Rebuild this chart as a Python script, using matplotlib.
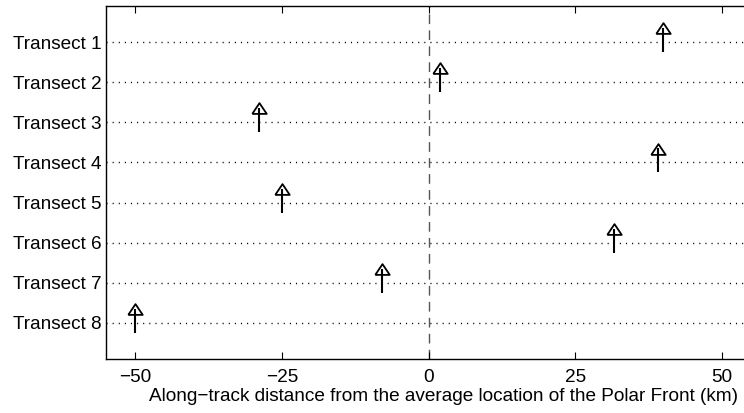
import numpy as np
import matplotlib
matplotlib.use("Agg")
import matplotlib.pyplot as plt

# transect labels and along-track distance of the front crossing (km)
transects = ["Transect 1", "Transect 2", "Transect 3", "Transect 4",
             "Transect 5", "Transect 6", "Transect 7", "Transect 8"]
distance = [40.0, 2.0, -29.0, 39.0, -25.0, 31.5, -8.0, -50.0]
xticks = [-50, -25, 0, 25, 50]

plt.rcParams['font.family'] = ['Liberation Sans', 'DejaVu Sans']

fig = plt.figure(figsize=(7.44, 4.13), dpi=100)
ax = fig.add_axes([0.1425, 0.1308, 0.907, 0.8547])

ypos = np.arange(1, len(transects) + 1)

# dotted guide line for each transect
for y in ypos:
    ax.axhline(y, color='black', lw=1.0, linestyle=(0, (0.8, 3.6)), zorder=1)

# zero line
ax.axvline(0, color='#555555', lw=1.0, linestyle=(0, (7, 4.5)), zorder=1)

# arrows: stem plus open triangular head
head = [(-1, -0.745), (1, -0.745), (0, 0.745), (-1, -0.745)]
for x, y in zip(distance, ypos):
    ax.plot([x, x], [y + 0.25, y - 0.35], color='black', lw=1.5, zorder=3,
            solid_capstyle='butt')
    ax.plot([x], [y - 0.345], marker=head, markersize=10.4,
            markerfacecolor='none', markeredgecolor='black',
            markeredgewidth=1.3, linestyle='none', zorder=4)

ax.set_xlim(-55, 60)
ax.set_ylim(8.9, 0.1)
ax.set_xticks(xticks)
ax.set_xticklabels([str(t) if t >= 0 else '\u2212' + str(-t) for t in xticks])
ax.set_yticks(ypos)
ax.set_yticklabels(transects)

ax.tick_params(axis='x', direction='in', length=5, width=0.8,
               top=True, labelsize=13.7, pad=7)
ax.tick_params(axis='y', direction='in', length=0, labelsize=13.7, pad=3)
for s in ax.spines.values():
    s.set_linewidth(1.0)

ax.set_xlabel("Along\u2212track distance from the average location of the Polar Front (km)",
              fontsize=13.7, labelpad=2)

fig.savefig("out.png", dpi=100)
